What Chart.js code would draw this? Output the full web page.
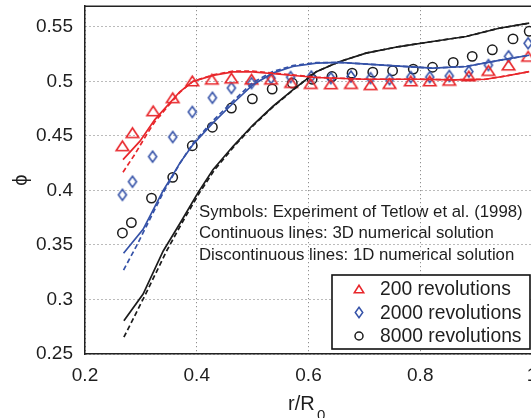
<!DOCTYPE html>
<html>
<head>
<meta charset="utf-8">
<script src="https://cdn.jsdelivr.net/npm/chart.js@4/dist/chart.umd.min.js"></script>
<style>
  html, body { margin: 0; padding: 0; overflow: hidden; background: #fff; }
  canvas { display: block; }
</style>
</head>
<body>
<canvas id="phiChart" width="545" height="418"></canvas>
<script>
// 軸の目盛り
const xTicks = [0.2, 0.4, 0.6, 0.8, 1];
const yTicks = [0.25, 0.3, 0.35, 0.4, 0.45, 0.5, 0.55];

// 凡例と注記
const seriesLabels = ['200 revolutions', '2000 revolutions', '8000 revolutions'];
const notes = [
    'Symbols: Experiment of Tetlow et al. (1998)',
    'Continuous lines: 3D numerical solution',
    'Discontinuous lines: 1D numerical solution'
];

// 実験値（記号）
const r200 = [0.267, 0.285, 0.322, 0.357, 0.392, 0.427, 0.462, 0.498, 0.533, 0.569, 0.604, 0.640, 0.676, 0.711, 0.745, 0.783, 0.817, 0.852, 0.887, 0.922, 0.958, 0.993];
const phi200 = [0.441, 0.453, 0.473, 0.485, 0.5005, 0.502, 0.503, 0.502, 0.502, 0.499, 0.498, 0.4978, 0.498, 0.497, 0.498, 0.5005, 0.5005, 0.501, 0.505, 0.510, 0.515, 0.523];
const r2000 = [0.267, 0.285, 0.321, 0.357, 0.392, 0.428, 0.462, 0.498, 0.533, 0.568, 0.605, 0.640, 0.676, 0.711, 0.745, 0.783, 0.817, 0.852, 0.887, 0.922, 0.958, 0.993];
const phi2000 = [0.396, 0.408, 0.431, 0.449, 0.472, 0.485, 0.494, 0.4985, 0.503, 0.504, 0.5045, 0.503, 0.5045, 0.503, 0.502, 0.504, 0.504, 0.505, 0.509, 0.515, 0.523, 0.535];
const r8000 = [0.267, 0.283, 0.319, 0.357, 0.392, 0.428, 0.462, 0.4995, 0.535, 0.571, 0.6065, 0.642, 0.678, 0.715, 0.7505, 0.7875, 0.822, 0.859, 0.893, 0.929, 0.966, 0.995];
const phi8000 = [0.361, 0.3705, 0.393, 0.412, 0.441, 0.458, 0.4756, 0.484, 0.493, 0.4985, 0.502, 0.5045, 0.5076, 0.5085, 0.5098, 0.5113, 0.513, 0.5174, 0.523, 0.529, 0.539, 0.546];

// 3D数値解（実線）
const rSolid200 = [0.268, 0.298, 0.325, 0.3696, 0.393, 0.429, 0.465, 0.50, 0.548, 0.614, 0.70, 0.798, 0.86, 0.917, 0.953, 0.995];
const phiSolid200 = [0.4283, 0.445, 0.465, 0.4905, 0.50, 0.5056, 0.5087, 0.5087, 0.5066, 0.5036, 0.502, 0.502, 0.5015, 0.502, 0.505, 0.509];
const rSolid2000 = [0.269, 0.304, 0.340, 0.355, 0.370, 0.393, 0.429, 0.465, 0.5005, 0.536, 0.572, 0.614, 0.655, 0.733, 0.822, 0.882, 0.941, 0.995];
const phiSolid2000 = [0.3424, 0.3644, 0.400, 0.4125, 0.4253, 0.442, 0.462, 0.480, 0.497, 0.5076, 0.5137, 0.5168, 0.5174, 0.515, 0.5122, 0.5137, 0.5193, 0.524];
const rSolid8000 = [0.2696, 0.304, 0.34, 0.3725, 0.4023, 0.429, 0.465, 0.5005, 0.536, 0.572, 0.614, 0.655, 0.703, 0.7625, 0.822, 0.882, 0.941, 0.995];
const phiSolid8000 = [0.2805, 0.305, 0.3445, 0.372, 0.398, 0.419, 0.4405, 0.460, 0.477, 0.4923, 0.509, 0.518, 0.526, 0.532, 0.5366, 0.5412, 0.5488, 0.5534];

// 1D数値解（破線）
const rDash200 = [0.268, 0.289, 0.310, 0.325, 0.3696, 0.393, 0.429, 0.465, 0.50, 0.548, 0.614, 0.70, 0.798, 0.86, 0.917, 0.953, 0.995];
const phiDash200 = [0.4167, 0.433, 0.451, 0.463, 0.490, 0.50, 0.506, 0.5095, 0.5095, 0.5072, 0.5038, 0.502, 0.502, 0.5015, 0.502, 0.505, 0.509];
const rDash2000 = [0.269, 0.292, 0.310, 0.340, 0.370, 0.393, 0.429, 0.465, 0.5005, 0.536, 0.572, 0.614, 0.655, 0.733, 0.822, 0.882, 0.941, 0.995];
const phiDash2000 = [0.327, 0.349, 0.3674, 0.398, 0.425, 0.443, 0.464, 0.482, 0.499, 0.509, 0.5145, 0.5172, 0.5174, 0.515, 0.5122, 0.5137, 0.5193, 0.524];
const rDash8000 = [0.2696, 0.286, 0.31, 0.346, 0.3755, 0.405, 0.432, 0.467, 0.502, 0.536, 0.572, 0.614, 0.655, 0.703, 0.7625, 0.822, 0.882, 0.941, 0.995];
const phiDash8000 = [0.2654, 0.282, 0.3065, 0.3445, 0.372, 0.398, 0.419, 0.4405, 0.460, 0.4765, 0.492, 0.509, 0.518, 0.526, 0.532, 0.5366, 0.5412, 0.5488, 0.5534];

const red = '#e8262b';
const blue = '#3552a8';
const black = '#1c1c1c';
const fontFamily = '"Liberation Sans", Arial, Helvetica, sans-serif';

// 記号を描く（三角・ひし形・丸）
function drawMarker(g, kind, x, y, w, h, color, lw) {
    g.save();
    g.strokeStyle = color;
    g.lineWidth = lw;
    g.beginPath();
    if (kind === 'tri') {
        g.moveTo(x, y - h / 2);
        g.lineTo(x + w / 2, y + h / 2);
        g.lineTo(x - w / 2, y + h / 2);
        g.closePath();
    } else if (kind === 'dia') {
        g.moveTo(x, y - h / 2);
        g.lineTo(x + w / 2, y);
        g.lineTo(x, y + h / 2);
        g.lineTo(x - w / 2, y);
        g.closePath();
    } else {
        g.arc(x, y, w / 2, 0, Math.PI * 2);
    }
    g.stroke();
    g.restore();
}

function markerImage(kind, w, h, color) {
    const c = document.createElement('canvas');
    c.width = Math.ceil(w + 4);
    c.height = Math.ceil(h + 4);
    drawMarker(c.getContext('2d'), kind, c.width / 2, c.height / 2, w, h, color, 1.6);
    return c;
}

const toPoints = (xs, ys) => xs.map((x, i) => ({x: x, y: ys[i]}));

function lineSet(xs, ys, color, dashed) {
    return {
        data: toPoints(xs, ys),
        showLine: true,
        borderColor: color,
        borderWidth: 1.7,
        borderDash: dashed ? [5, 3] : [],
        pointRadius: 0,
        tension: 0
    };
}

function markerSet(xs, ys, style) {
    return {
        data: toPoints(xs, ys),
        showLine: false,
        pointStyle: style,
        pointRadius: 6,
        borderWidth: 0,
        backgroundColor: 'transparent'
    };
}

// 上辺の枠線
const frame = {
    id: 'frame',
    afterDraw(chart) {
        const {ctx, chartArea: a} = chart;
        ctx.save();
        ctx.strokeStyle = '#222';
        ctx.lineWidth = 1.5;
        ctx.beginPath();
        ctx.moveTo(a.left, a.top);
        ctx.lineTo(a.right, a.top);
        ctx.lineTo(a.right, a.bottom);
        ctx.stroke();
        ctx.restore();
    }
};

// 注記テキスト
const noteText = {
    id: 'noteText',
    afterDraw(chart) {
        const {ctx, chartArea: a} = chart;
        ctx.save();
        ctx.font = '16.8px ' + fontFamily;
        ctx.fillStyle = '#1e1e1e';
        ctx.textBaseline = 'middle';
        notes.forEach((t, i) => ctx.fillText(t, a.left + 114, 212 + i * 21.6));
        ctx.restore();
    }
};

// 凡例ボックス（右下）
const legendBox = {
    id: 'legendBox',
    afterDraw(chart) {
        const {ctx, chartArea: a} = chart;
        const w = 198, h = 74;
        const x0 = a.right - 2 - w, y0 = a.bottom - 5 - h;
        ctx.save();
        ctx.fillStyle = '#fff';
        ctx.fillRect(x0, y0, w, h);
        ctx.strokeStyle = '#111';
        ctx.lineWidth = 1.6;
        ctx.strokeRect(x0, y0, w, h);
        ctx.font = '19.3px ' + fontFamily;
        ctx.fillStyle = '#1e1e1e';
        ctx.textBaseline = 'middle';
        const kinds = [['tri', 9.5, 7.5, red], ['dia', 7.5, 10.5, blue], ['circ', 8, 8, black]];
        seriesLabels.forEach((t, i) => {
            const y = y0 + 14 + i * 23.5;
            const k = kinds[i];
            drawMarker(ctx, k[0], x0 + 27, y, k[1], k[2], k[3], 1.5);
            ctx.fillText(t, x0 + 48, y + 1);
        });
        ctx.restore();
    }
};

// X軸タイトル r/R0（下付き文字）
const xTitle = {
    id: 'xTitle',
    afterDraw(chart) {
        const ctx = chart.ctx;
        ctx.save();
        ctx.fillStyle = '#1e1e1e';
        ctx.textBaseline = 'alphabetic';
        ctx.font = '20px ' + fontFamily;
        ctx.fillText('r/R', 288, 410);
        ctx.font = '15px ' + fontFamily;
        ctx.fillText('0', 317, 420);
        ctx.restore();
    }
};

function renderChart() {
    const ctx = document.getElementById('phiChart').getContext('2d');
    new Chart(ctx, {
        type: 'scatter',
        data: {
            datasets: [
                lineSet(rSolid200, phiSolid200, red, false),
                lineSet(rDash200, phiDash200, red, true),
                lineSet(rSolid2000, phiSolid2000, blue, false),
                lineSet(rDash2000, phiDash2000, blue, true),
                lineSet(rSolid8000, phiSolid8000, black, false),
                lineSet(rDash8000, phiDash8000, black, true),
                markerSet(r200, phi200, markerImage('tri', 12.5, 9.5, red)),
                markerSet(r2000, phi2000, markerImage('dia', 8, 11, blue)),
                {
                    data: toPoints(r8000, phi8000),
                    showLine: false,
                    pointStyle: 'circle',
                    pointRadius: 4.7,
                    borderWidth: 1.5,
                    borderColor: black,
                    backgroundColor: 'transparent'
                }
            ]
        },
        options: {
            responsive: false,
            animation: false,
            events: [],
            layout: {padding: {left: 0, top: 6, right: 13, bottom: 0}},
            plugins: {
                legend: {display: false},
                tooltip: {enabled: false}
            },
            scales: {
                x: {
                    type: 'linear',
                    min: 0.2,
                    max: 1,
                    afterBuildTicks: s => { s.ticks = xTicks.map(v => ({value: v})); },
                    afterFit: s => {
                        s.height = 64;
                        s.paddingLeft = 0;
                        s.paddingRight = 0;
                    },
                    ticks: {
                        padding: 10,
                        color: '#1e1e1e',
                        font: {size: 19, family: fontFamily},
                        callback: v => String(v)
                    },
                    grid: {color: '#777', lineWidth: 1, drawTicks: false},
                    border: {color: '#222', width: 1.5, dash: [1, 3]}
                },
                y: {
                    type: 'linear',
                    min: 0.25,
                    max: 0.569,
                    afterBuildTicks: s => { s.ticks = yTicks.map(v => ({value: v})); },
                    afterFit: s => {
                        s.width = 85;
                        s.paddingTop = 0;
                        s.paddingBottom = 0;
                    },
                    ticks: {
                        padding: 12,
                        color: '#1e1e1e',
                        font: {size: 19, family: fontFamily},
                        callback: v => String(v)
                    },
                    grid: {color: '#777', lineWidth: 1, drawTicks: false},
                    border: {color: '#222', width: 1.5, dash: [1, 3]},
                    title: {
                        display: true,
                        text: 'ϕ',
                        color: '#1e1e1e',
                        padding: {top: 9, bottom: 0},
                        font: {size: 20, family: fontFamily}
                    }
                }
            }
        },
        plugins: [frame, noteText, legendBox, xTitle]
    });
}

renderChart();
</script>
</body>
</html>
